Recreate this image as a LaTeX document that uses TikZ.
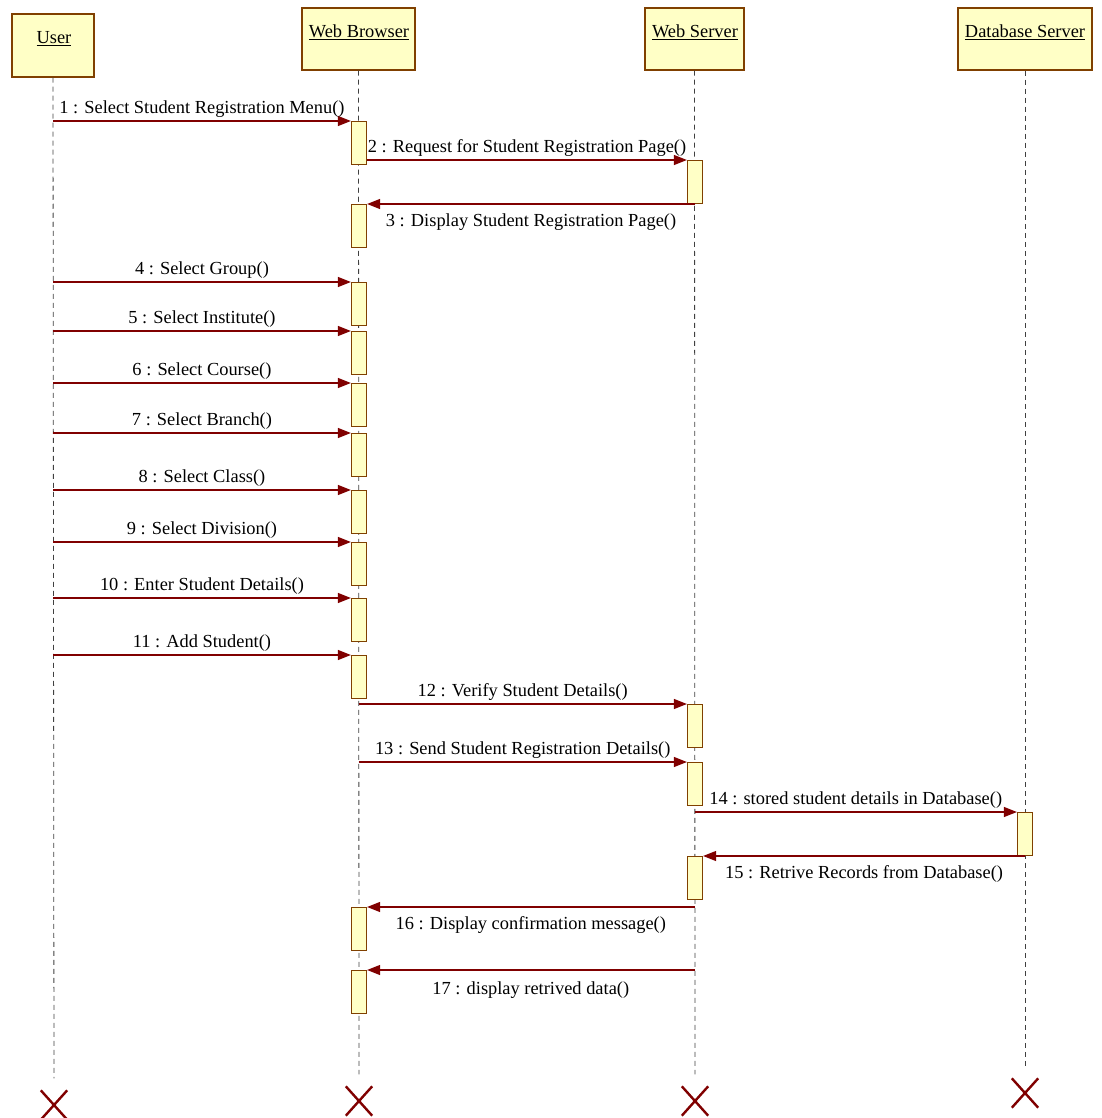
\documentclass[tikz,border=0pt]{standalone}
\usepackage{fontspec}
\setmainfont{Liberation Serif}
\usetikzlibrary{arrows.meta,shapes.misc}
\definecolor{boxfill}{RGB}{255,255,198}
\definecolor{boxline}{RGB}{128,64,0}
\definecolor{msgred}{RGB}{128,0,0}

\begin{document}
\begin{tikzpicture}[x=1pt,y=-1pt,font=\fontsize{18.4}{22}\selectfont,
    obj/.style={draw=boxline,fill=boxfill,line width=1.5pt,inner sep=0pt,minimum height=62pt},
    objname/.style={anchor=base,inner sep=0pt},
    act/.style={draw=boxline,fill=boxfill,line width=1.2pt,inner sep=0pt,
        minimum width=15pt,minimum height=43pt,anchor=north},
    life/.style={gray!50!black,line width=0.8pt,dash pattern=on 5pt off 4pt},
    msg/.style={msgred,line width=1.1pt,-{Triangle[length=13pt,width=10pt]}},
    over/.style={midway,above,text=black,inner sep=3pt},
    under/.style={midway,below,text=black,inner sep=9pt},
    kill/.style={cross out,draw=msgred,line width=2.4pt,minimum width=24pt,minimum height=27pt,inner sep=0pt}]
        \useasboundingbox (0,0) rectangle (1101,1118);
        % objects
        \node[obj,minimum width=82pt,minimum height=63pt] (user) at (53,45.5) {};
        \node[obj,minimum width=113pt] (browser) at (358.5,39) {};
        \node[obj,minimum width=99pt] (server) at (694.5,39) {};
        \node[obj,minimum width=134pt] (db) at (1025,39) {};
        \node[objname] (userlbl) at (54,44) {\underline{User}};
        \node[objname] (browserlbl) at (359,38) {\underline{Web Browser}};
        \node[objname] (serverlbl) at (695,38) {\underline{Web Server}};
        \node[objname] (dblbl) at (1025,38) {\underline{Database Server}};
        % destruction marks
        \node[kill] (userx) at (54,1105) {};
        \node[kill] (browserx) at (359,1101) {};
        \node[kill] (serverx) at (695,1101) {};
        \node[kill] (dbx) at (1025,1093) {};
        % lifelines
        \draw[life,shorten >=12pt] (user.south) -- (userx.north);
        \draw[life,shorten >=12pt] (browser.south) -- (browserx.north);
        \draw[life,shorten >=12pt] (server.south) -- (serverx.north);
        \draw[life,shorten >=12pt] (db.south) -- (dbx.north);
        % page request
        \node[act] (b1) at (359,121) {};
        \draw[msg] (user.south |- b1.north) -- (b1.north west)
            node[over] {1 : Select Student Registration Menu()};
        \node[act] (s1) at (695,160) {};
        \draw[msg] (b1.east |- s1.north) -- (s1.north west)
            node[over] {2 : Request for Student Registration Page()};
        \node[act] (b2) at (359,204) {};
        \draw[msg] (s1.south |- b2.north) -- (b2.north east)
            node[under] {3 : Display Student Registration Page()};
        % form input
        \foreach \n/\y/\txt in {3/282/4 : Select Group(),4/331/5 : Select Institute(),
                5/383/6 : Select Course(),6/433/7 : Select Branch(),
                7/490/8 : Select Class(),8/542/9 : Select Division(),
                9/598/10 : Enter Student Details(),10/655/11 : Add Student()}{
            \node[act] (b\n) at (359,\y) {};
            \draw[msg] (user.south |- b\n.north) -- (b\n.north west)
                node[over] {\txt};
        }
        % saving
        \node[act] (s2) at (695,704) {};
        \draw[msg] (browser.south |- s2.north) -- (s2.north west)
            node[over] {12 : Verify Student Details()};
        \node[act] (s3) at (695,762) {};
        \draw[msg] (browser.south |- s3.north) -- (s3.north west)
            node[over] {13 : Send Student Registration Details()};
        \node[act] (d1) at (1025,812) {};
        \draw[msg] (server.south |- d1.north) -- (d1.north west)
            node[over] {14 : stored student details in Database()};
        \node[act] (s4) at (695,856) {};
        \draw[msg] (d1.south |- s4.north) -- (s4.north east)
            node[under] {15 : Retrive Records from Database()};
        \node[act] (b11) at (359,907) {};
        \draw[msg] (server.south |- b11.north) -- (b11.north east)
            node[under] {16 : Display confirmation message()};
        \node[act] (b12) at (359,970) {};
        \draw[msg] (server.south |- b12.north) -- (b12.north east)
            node[under,inner sep=11pt] {17 : display retrived data()};
    \end{tikzpicture}
\end{document}
